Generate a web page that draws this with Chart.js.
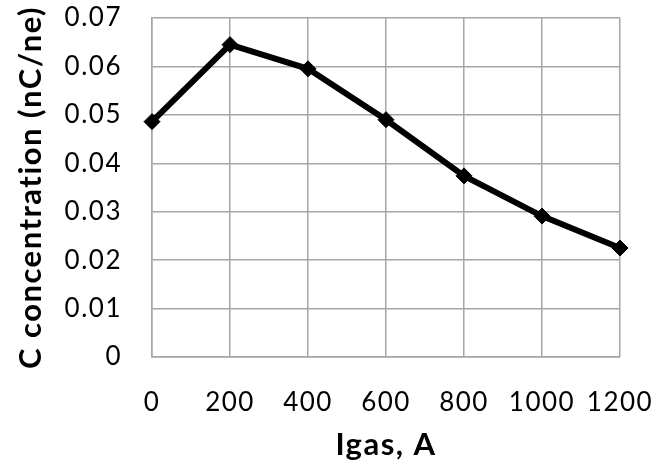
<!DOCTYPE html>
<html>
<head>
<meta charset="utf-8">
<script src="https://cdn.jsdelivr.net/npm/chart.js@4"></script>
<style>
  body { margin: 0; background: #fff; }
  #wrap { width: 656px; height: 464px; }
</style>
</head>
<body>
<div id="wrap"><canvas id="cChart"></canvas></div>
<script>
// Igas (A) vs C concentration
const currents = ['0', '200', '400', '600', '800', '1000', '1200'];
const concentration = [0.0486, 0.0645, 0.0595, 0.0490, 0.0374, 0.0291, 0.0225];

const font = { family: 'Lato', size: 26 };
const titleFont = { family: 'Lato', size: 31, weight: 'bold' };
const gridColor = '#a6a6a6';

// the original text is a bit wider than Lato, space the letters out a little
const spacing = {
	id: 'spacing',
	beforeLayout(chart) { chart.ctx.letterSpacing = '1.5px'; },
	beforeDraw(chart) { chart.ctx.letterSpacing = '1.5px'; },
};

const config = {
	type: 'line',
	data: {
		labels: currents,
		datasets: [
			{
				label: 'C concentration',
				data: concentration,
				borderColor: '#000',
				backgroundColor: '#000',
				borderWidth: 6,
				pointStyle: 'rectRot',
				pointRadius: 8,
				pointBorderWidth: 1,
				tension: 0,
			},
		],
	},
	options: {
		responsive: true,
		maintainAspectRatio: false,
		animation: false,
		layout: { padding: 0 },
		plugins: { legend: { display: false }, tooltip: { enabled: false } },
		scales: {
			x: {
				offset: false,
				grid: { color: gridColor, lineWidth: 1.5, drawTicks: false },
				border: { color: gridColor, width: 1.5 },
				ticks: { color: '#000', font: font, padding: 30, maxRotation: 0 },
				title: { display: true, text: 'Igas, A', color: '#000', font: titleFont, padding: 0 },
				afterFit: (scale) => {
					scale.height = 107;
					scale.paddingLeft = 0;
					scale.paddingRight = 36;
				},
			},
			y: {
				min: 0,
				max: 0.07,
				grid: { color: gridColor, lineWidth: 1.5, drawTicks: false },
				border: { color: gridColor, width: 1.5 },
				ticks: { color: '#000', font: font, padding: 30, stepSize: 0.01 },
				title: { display: true, text: 'C concentration (nC/ne)', color: '#000', font: titleFont, padding: { top: 12, bottom: 0 } },
				afterFit: (scale) => {
					scale.width = 152;
					scale.paddingTop = 18;
					scale.paddingBottom = 0;
				},
			},
		},
	},
	plugins: [spacing],
};

const cChart = new Chart(document.getElementById('cChart'), config);
</script>
</body>
</html>
